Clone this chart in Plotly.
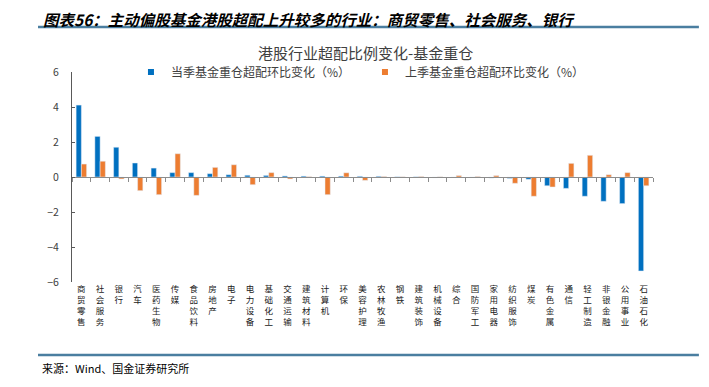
import plotly.graph_objects as go

categories = ["商贸零售", "社会服务", "银行", "汽车", "医药生物", "传媒", "食品饮料", "房地产",
              "电子", "电力设备", "基础化工", "交通运输", "建筑材料", "计算机", "环保", "美容护理",
              "农林牧渔", "钢铁", "建筑装饰", "机械设备", "综合", "国防军工", "家用电器", "纺织服饰",
              "煤炭", "有色金属", "通信", "轻工制造", "非银金融", "公用事业", "石油石化"]
current_q = [4.11, 2.32, 1.70, 0.80, 0.51, 0.25, 0.25, 0.19, 0.13, 0.10, 0.09, 0.06, 0.05, 0.05,
             0.05, 0.04, 0.04, 0.01, 0.01, -0.04, -0.03, -0.03, -0.06, -0.08, -0.13, -0.50, -0.65,
             -1.10, -1.39, -1.52, -5.37]
last_q = [0.74, 0.90, -0.11, -0.78, -1.01, 1.33, -1.05, 0.55, 0.70, -0.44, 0.25, -0.11, 0.02, -1.01,
          0.24, -0.19, 0.03, 0.01, 0.03, 0.01, 0.08, 0.03, 0.08, -0.36, -1.10, -0.57, 0.78, 1.24,
          0.13, 0.25, -0.50]
y_ticks = [-6, -4, -2, 0, 2, 4, 6]

name_cur = "当季基金重仓超配环比变化（%）"
name_last = "上季基金重仓超配环比变化（%）"
BLUE = "#0070C0"
ORANGE = "#ED7D31"
FONT = "Noto Sans CJK SC"

fig = go.Figure()
fig.add_trace(go.Bar(x=categories, y=current_q, name=name_cur, marker_color=BLUE, showlegend=False))
fig.add_trace(go.Bar(x=categories, y=last_q, name=name_last, marker_color=ORANGE, showlegend=False))
# legend entries with small square markers
fig.add_trace(go.Scatter(x=[None], y=[None], mode="markers", name=name_cur,
                         marker=dict(symbol="square", size=6, color=BLUE)))
fig.add_trace(go.Scatter(x=[None], y=[None], mode="markers", name=name_last,
                         marker=dict(symbol="square", size=6, color=ORANGE)))
# invisible trace to carry the zero-position axis
fig.add_trace(go.Scatter(x=categories, y=[0] * len(categories), xaxis="x2", mode="markers",
                         marker=dict(opacity=0), showlegend=False, hoverinfo="skip"))

ticktext = ["<br>".join(list(c)) for c in categories]

fig.update_layout(
    width=709, height=387,
    margin=dict(l=64, r=64, t=64, b=113),
    paper_bgcolor="white", plot_bgcolor="white",
    font=dict(family=FONT, color="#404040"),
    barmode="group", bargap=0.44, bargroupgap=0,
    title=dict(text="<b><i>图表56：主动偏股基金港股超配上升较多的行业：商贸零售、社会服务、银行</i></b>",
               x=0.0494, xanchor="left", y=0.967, yanchor="middle",
               font=dict(size=15.5, color="#000000", family=FONT)),
    xaxis=dict(type="category", categoryorder="array", categoryarray=categories,
               tickmode="array", tickvals=categories, ticktext=ticktext,
               tickangle=0, showline=False, ticks="", showgrid=False, zeroline=False,
               tickfont=dict(size=8.5, color="#222222"), range=[-0.5, 30.5]),
    xaxis2=dict(type="category", categoryorder="array", categoryarray=categories,
                overlaying="x", anchor="free", position=0.5, matches="x",
                showline=True, linecolor="#8C8C8C", linewidth=1,
                ticks="outside", tickson="boundaries", ticklen=4, tickcolor="#8C8C8C",
                showticklabels=False, showgrid=False, zeroline=False),
    yaxis=dict(range=[-6, 6], tickvals=y_ticks, showline=True, linecolor="#595959", linewidth=1,
               ticks="inside", ticklen=3, tickcolor="#595959", showgrid=False, zeroline=False,
               ticklabelstandoff=10,
               tickfont=dict(size=10.5, color="#404040")),
    legend=dict(orientation="h", x=0.1015, xanchor="left", y=1.0, yanchor="middle",
                font=dict(size=12, color="#404040"), bgcolor="rgba(0,0,0,0)",
                entrywidth=189, entrywidthmode="pixels", itemwidth=30),
    showlegend=True,
)

fig.add_annotation(text="港股行业超配比例变化-基金重仓", xref="paper", yref="paper",
                   x=0.506, y=1.095, xanchor="center", yanchor="middle", showarrow=False,
                   font=dict(size=15, color="#404040"))
fig.add_annotation(text="来源：Wind、国金证券研究所", xref="paper", yref="paper",
                   x=-0.055, y=-0.41, xanchor="left", yanchor="middle", showarrow=False,
                   font=dict(size=11, color="#000000"))

for yy in [1.214, -0.348]:
    fig.add_shape(type="line", xref="paper", yref="paper", x0=-0.0585, x1=1.079, y0=yy, y1=yy,
                  line=dict(color="#4A7EA0", width=2.5))

fig.write_html("out.html")
